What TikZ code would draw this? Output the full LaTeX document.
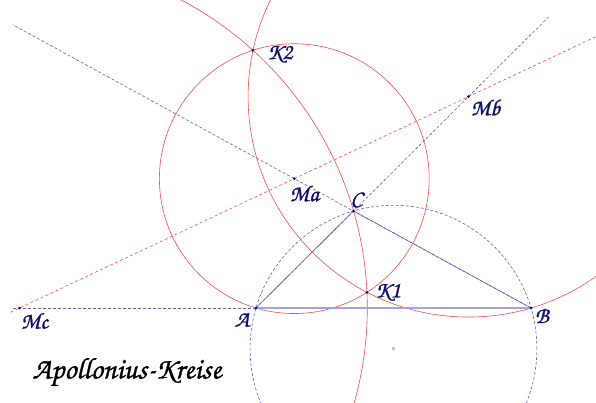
\documentclass[tikz,border=0pt]{standalone}
\usepackage{fontspec}
\newfontfamily\handfont[FakeBold=1]{TeX Gyre Chorus}
\usetikzlibrary{calc,intersections}
\definecolor{kreisrot}{RGB}{245,75,75}
\definecolor{linieblau}{RGB}{95,95,185}
\definecolor{punktblau}{RGB}{15,15,110}
\definecolor{seitenblau}{RGB}{165,165,220}
\tikzset{
  kreis/.style={draw=kreisrot, line width=0.6pt},
  achse/.style={draw=kreisrot, line width=0.6pt, dash pattern=on 3pt off 2.5pt},
  hilfslinie/.style={draw=linieblau, line width=0.6pt, dash pattern=on 3pt off 2pt},
  seite/.style={draw=linieblau, line width=0.6pt},
  punkt/.style={circle, fill=punktblau, inner sep=0pt, minimum size=3pt},
  marke/.style={text=punktblau, font=\handfont\fontsize{23}{23}\selectfont, inner sep=0pt},
}
\begin{document}
\begin{tikzpicture}[x=1pt, y=-1pt]
  \useasboundingbox (0,0) rectangle (596,403);
  \clip (0,0) rectangle (596,403);

  \coordinate (A) at (256,308);
  \coordinate (B) at (531,308);
  \coordinate (C) at (353.5,211);
  \coordinate (O) at (393.5,348.7);
  \coordinate (ta) at ($(A)!1!90:(O)$);
  \coordinate (tb) at ($(B)!1!90:(O)$);
  \coordinate (tc) at ($(C)!1!90:(O)$);
  \coordinate (Ma) at (intersection of B--C and A--ta);
  \coordinate (Mb) at (intersection of A--C and B--tb);
  \coordinate (Mc) at (intersection of A--B and C--tc);

  % Hilfslinien
  \draw[hilfslinie] (B) -- ($(B)!2.92!(C)$);
  \draw[hilfslinie] (A) -- ($(A)!3!(C)$);
  \draw[hilfslinie] (B) -- ($(B)!1.89!(A)$);
  \draw[achse] ($(Mc)!-0.02!(Mb)$) -- ($(Mc)!1.4!(Mb)$);
  \draw[hilfslinie] let \p1=($(A)-(O)$) in (O) circle[radius={veclen(\x1,\y1)*1pt}];
  \node[draw=gray, circle, inner sep=0pt, minimum size=3pt] (U) at (O) {};

  % Apollonius-Kreise
  \draw[kreis, name path=ka] let \p1=($(A)-(Ma)$) in (Ma) circle[radius={veclen(\x1,\y1)*1pt}];
  \draw[kreis, name path=kb] let \p1=($(B)-(Mb)$) in (Mb) circle[radius={veclen(\x1,\y1)*1pt}];
  \draw[kreis, name path=kc] let \p1=($(C)-(Mc)$) in (Mc) circle[radius={veclen(\x1,\y1)*1pt}];
  \path[name intersections={of=ka and kc, name=K}];
  \coordinate (K1) at (K-2);
  \coordinate (K2) at (K-1);

  % Dreieck
  \draw[seite, draw=seitenblau, line width=1.3pt] (A) -- (B);
  \draw[seite] (B) -- (C) -- (A);

  \foreach \p in {A,B,C,Ma,Mb,Mc,K1,K2}
    \node[punkt] (p\p) at (\p) {};

  \node[marke] (tA) at ($(A)+(-14,12)$) {A};
  \node[marke] (tB) at ($(B)+(11,8)$) {B};
  \node[marke] (tC) at ($(C)+(3,-11)$) {C};
  \node[marke] (tMa) at ($(Ma)+(10,15)$) {Ma};
  \node[marke] (tMb) at ($(Mb)+(17,11)$) {Mb};
  \node[marke] (tMc) at ($(Mc)+(15,13)$) {Mc};
  \node[marke] (tK1) at ($(K1)+(21,0)$) {K1};
  \node[marke] (tK2) at ($(K2)+(27,4)$) {K2};

  \node[font=\handfont\fontsize{30}{30}\selectfont, inner sep=0pt] (titel) at (127,372) {Apollonius-Kreise};
\end{tikzpicture}
\end{document}
